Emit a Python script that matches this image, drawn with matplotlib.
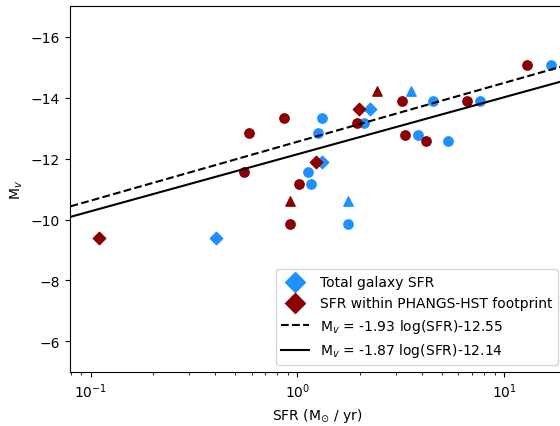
import numpy as np
import matplotlib.pyplot as plt

# Absolute V magnitude per galaxy and the two SFR estimates
mag_circle = [-12.83, -13.34, -11.56, -11.15, -9.85, -13.15, -13.87, -12.78, -12.57, -13.87, -15.08]
sfr_tot_circle = [1.26, 1.31, 1.12, 1.16, 1.75, 2.09, 4.52, 3.83, 5.35, 7.61, 16.9]
sfr_hst_circle = [0.584, 0.859, 0.552, 1.015, 0.918, 1.95, 3.21, 3.31, 4.21, 6.58, 12.9]

mag_tri = [-10.61, -14.21]
sfr_tot_tri = [1.75, 3.54]
sfr_hst_tri = [0.918, 2.43]

mag_dia = [-9.39, -11.88, -13.63]
sfr_tot_dia = [0.405, 1.32, 2.25]
sfr_hst_dia = [0.11, 1.23, 1.99]

# Fits
fit_hst = (-1.93, -12.55)
fit_tot = (-1.87, -12.14)

blue = "dodgerblue"
red = "darkred"

fig = plt.figure(figsize=(5.6, 4.27), dpi=100)
ax = fig.add_axes([0.125, 0.1265, 0.884, 0.857])

ax.scatter(sfr_tot_circle, mag_circle, color=blue, marker="o", s=45)
ax.scatter(sfr_tot_tri, mag_tri, color=blue, marker="^", s=45)
ax.scatter(sfr_tot_dia, mag_dia, color=blue, marker="D", s=40, label="Total galaxy SFR")

ax.scatter(sfr_hst_circle, mag_circle, color=red, marker="o", s=45)
ax.scatter(sfr_hst_tri, mag_tri, color=red, marker="^", s=45)
ax.scatter(sfr_hst_dia, mag_dia, color=red, marker="D", s=40, label="SFR within PHANGS-HST footprint")

xx = np.logspace(-1.2, 1.4, 50)
ax.plot(xx, fit_hst[0] * np.log10(xx) + fit_hst[1], "k--", lw=1.5,
        label=r"M$_v$ = -1.93 log(SFR)-12.55")
ax.plot(xx, fit_tot[0] * np.log10(xx) + fit_tot[1], "k-", lw=1.5,
        label=r"M$_v$ = -1.87 log(SFR)-12.14")

ax.set_xscale("log")
ax.set_xlim(0.0794, 19.7)
ax.set_ylim(-5, -17)
ax.set_xlabel(r"SFR (M$_{\odot}$ / yr)")
ax.set_ylabel(r"M$_v$")
ax.legend(loc="lower right", markerscale=1.6)

plt.savefig("out.png", dpi=100)
